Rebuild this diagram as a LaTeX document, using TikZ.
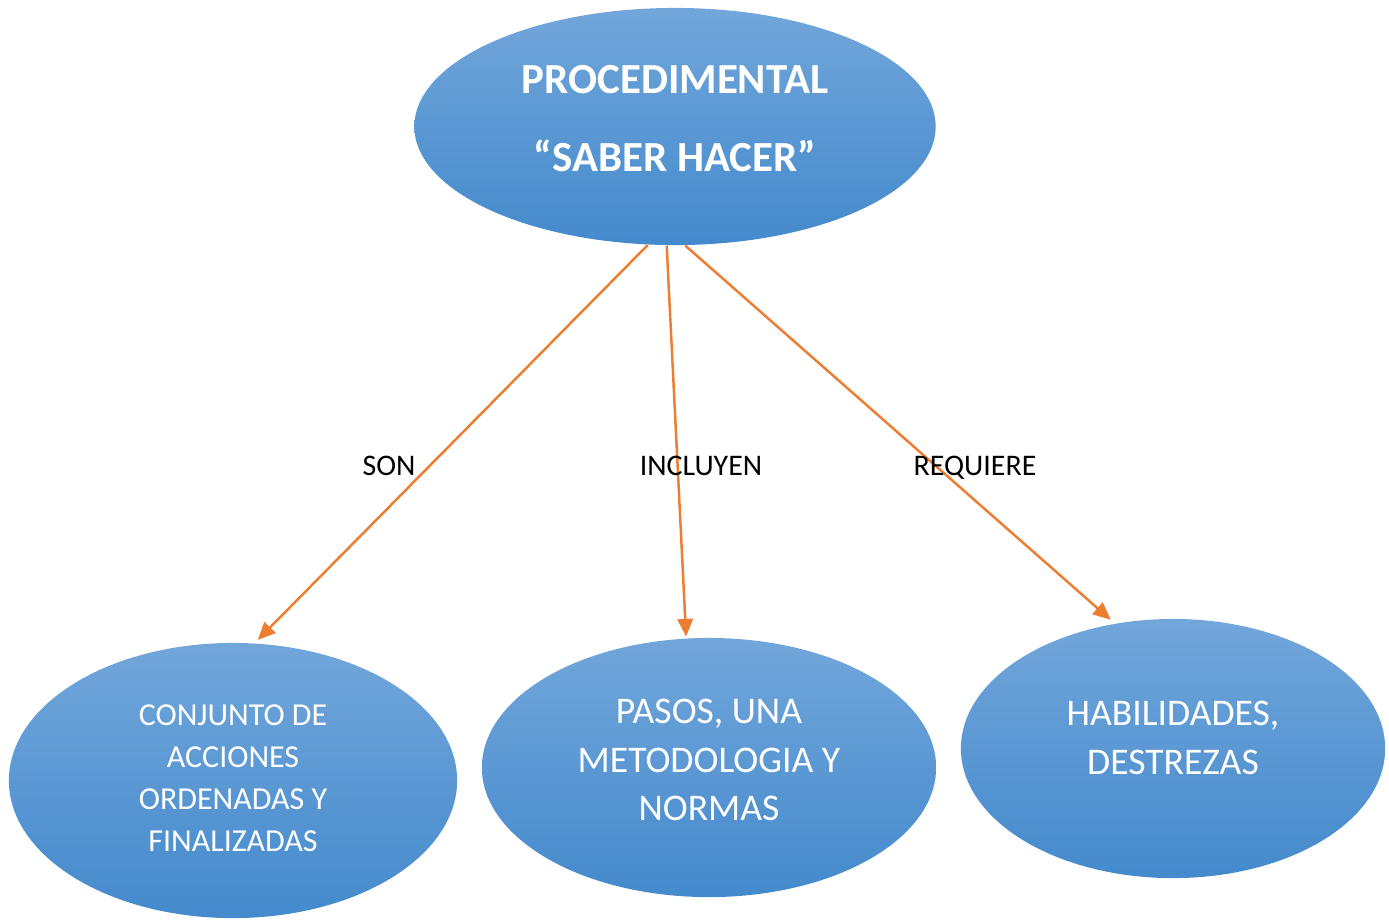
\documentclass[tikz,border=0pt]{standalone}
\usepackage{fontspec}
\setmainfont{Carlito}
\usepackage{tikz}
\usetikzlibrary{arrows.meta,shapes.geometric}

\definecolor{bluetop}{RGB}{114,166,219}
\definecolor{bluebot}{RGB}{68,138,204}
\definecolor{orangeline}{RGB}{237,125,49}

\tikzset{
  burbuja/.style={ellipse,inner sep=0pt,top color=bluetop,bottom color=bluebot},
  textoburbuja/.style={text=white,align=center,inner sep=0pt},
  flecha/.style={draw=orangeline,line width=0.7pt,
    -{Triangle[length=5pt,width=4.4pt]},orangeline},
  etiqueta/.style={font=\fontsize{8.5}{10}\selectfont,text=black}
}

\begin{document}
\begin{tikzpicture}[x=0.01cm,y=-0.01cm]
            \useasboundingbox (0,0) rectangle (1389,920);
            % burbujas
            \node[burbuja,minimum width=5.21cm,minimum height=2.37cm] (proc) at (675,126.5) {};
            \node[burbuja,minimum width=4.48cm,minimum height=2.75cm] (conj) at (233,780.5) {};
            \node[burbuja,minimum width=4.54cm,minimum height=2.59cm] (pasos) at (709,767.5) {};
            \node[burbuja,minimum width=4.24cm,minimum height=2.59cm] (habil) at (1173,748.5) {};
            % textos
            \node[textoburbuja,font=\bfseries\fontsize{12.2}{22.2}\selectfont] (proctxt) at (675,119)
                  {PROCEDIMENTAL\\“SABER HACER”};
            \node[textoburbuja,font=\fontsize{9.1}{12}\selectfont] (conjtxt) at (233,778)
                  {CONJUNTO DE\\ACCIONES\\ORDENADAS Y\\FINALIZADAS};
            \node[textoburbuja,font=\fontsize{10.7}{13.9}\selectfont] (pasostxt) at (709,760)
                  {PASOS, UNA\\METODOLOGIA Y\\NORMAS};
            \node[textoburbuja,font=\fontsize{10.7}{13.9}\selectfont] (habiltxt) at (1173,737.5)
                  {HABILIDADES,\\DESTREZAS};
            % flechas
            \draw[flecha,shorten >=1.2pt] (proc.257) -- (conj.81);
            \draw[flecha,shorten >=0.4pt] (proc.266) -- (pasos.100);
            \draw[flecha,shorten >=1.5pt] (proc.275) -- (habil.115);
            \node[etiqueta] (son) at (389,466) {SON};
            \node[etiqueta] (incl) at (701,466) {INCLUYEN};
            \node[etiqueta] (req) at (975,467.5) {REQUIERE};
          \end{tikzpicture}
\end{document}
